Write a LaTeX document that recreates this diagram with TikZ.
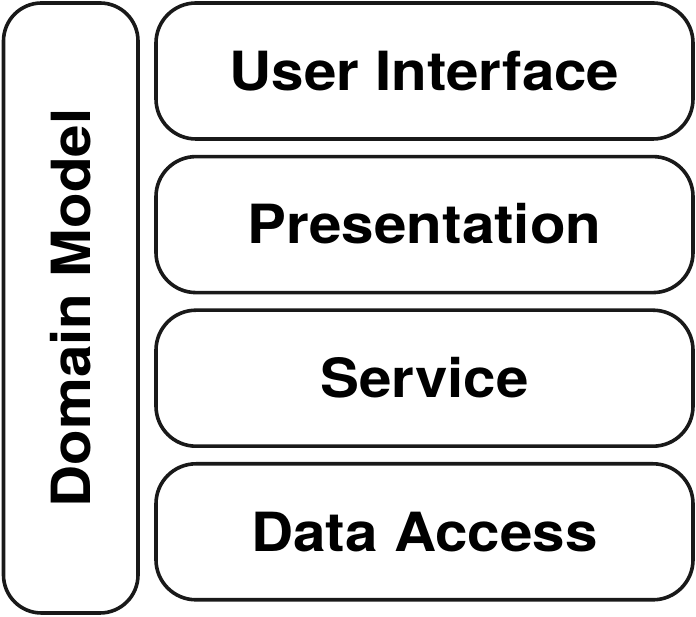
\documentclass[tikz,border=0pt]{standalone}
\usepackage{fontspec}
\setmainfont{TeX Gyre Heros}
\usepackage{graphicx}
\tikzset{
  layer/.style={draw=black!90, line width=3.6pt, rounded corners=40pt, rectangle,
    inner sep=0pt, minimum width=537pt, minimum height=136pt,
    text height=38.8pt, text depth=0pt,
    font=\fontsize{54}{60}\selectfont\bfseries},
  sidebox/.style={draw=black!90, line width=3.6pt, rounded corners=38pt, rectangle,
    inner sep=0pt, minimum width=610pt, minimum height=134.5pt,
    text height=38.8pt, text depth=0pt,
    font=\fontsize{54}{60}\selectfont\bfseries},
}
\newcommand{\wide}[1]{\scalebox{1.08}[1]{#1}}
\begin{document}
\begin{tikzpicture}[x=1pt,y=1pt]
  \useasboundingbox (0,0) rectangle (696,617);
  \node[sidebox, rotate=90] (dm) at (70.75,309) {\wide{Domain Model}};
  \node[layer] (ui) at (424.5,546) {\wide{User Interface}};
  \node[layer] (pr) at (424.5,392.4) {\wide{Presentation}};
  \node[layer] (sv) at (424.5,238.8) {\wide{Service}};
  \node[layer] (da) at (424.5,85.2) {\wide{Data Access}};
\end{tikzpicture}
\end{document}
